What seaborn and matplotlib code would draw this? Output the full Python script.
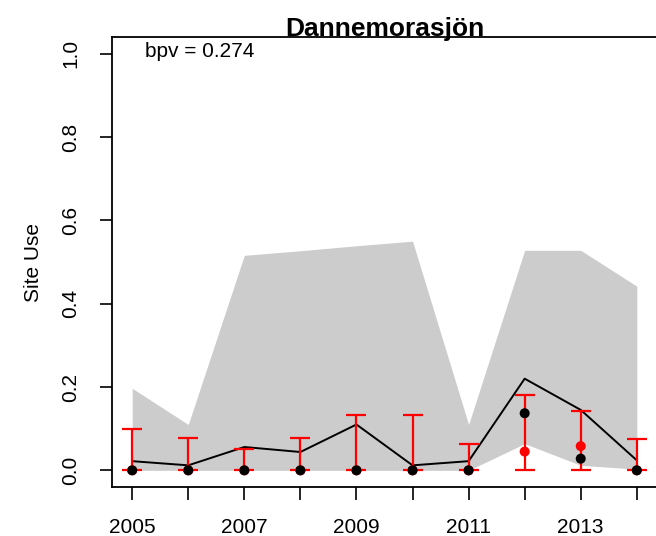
import matplotlib
matplotlib.use("Agg")
import matplotlib.pyplot as plt
import seaborn as sns
import pandas as pd
import numpy as np

years = [2005, 2006, 2007, 2008, 2009, 2010, 2011, 2012, 2013, 2014]
band_upper = [0.197, 0.110, 0.516, 0.527, 0.539, 0.550, 0.110, 0.528, 0.528, 0.442]
band_lower = [0.0, 0.0, 0.0, 0.0, 0.0, 0.0, 0.0, 0.064, 0.012, 0.003]
line_vals = [0.022, 0.012, 0.056, 0.044, 0.110, 0.012, 0.022, 0.220, 0.145, 0.024]
red_pts = [0.0, 0.0, 0.0, 0.0, 0.0, 0.0, 0.0, 0.045, 0.058, 0.0]
red_low = [0.0, 0.0, 0.0, 0.0, 0.0, 0.0, 0.0, 0.0, 0.0, 0.0]
red_high = [0.100, 0.077, 0.052, 0.077, 0.133, 0.133, 0.063, 0.182, 0.143, 0.075]
black_pts = [0.0, 0.0, 0.0, 0.0, 0.0, 0.0, 0.0, 0.137, 0.028, 0.0]
x_tick_labels = ["2005", "", "2007", "", "2009", "", "2011", "", "2013", ""]
y_ticks = [0.0, 0.2, 0.4, 0.6, 0.8, 1.0]
title = "Dannemorasjön"
bpv_text = "bpv = 0.274"

df = pd.DataFrame({"year": years, "line": line_vals, "red": red_pts, "black": black_pts})

sns.set_theme(style="white")
plt.rcParams["font.family"] = ["Liberation Sans", "DejaVu Sans"]

W, H = 656, 536
fig = plt.figure(figsize=(W / 100, H / 100), dpi=100)
left, right, top, bottom = 112, 657, 37, 487
ax = fig.add_axes([left / W, (H - bottom) / H, (right - left) / W, (bottom - top) / H])

ax.fill_between(years, band_lower, band_upper, color="#CCCCCC", linewidth=0, zorder=1)
sns.lineplot(data=df, x="year", y="line", color="black", linewidth=1.4, ax=ax, zorder=3)
yerr = [np.array(red_pts) - np.array(red_low), np.array(red_high) - np.array(red_pts)]
ax.errorbar(years, red_pts, yerr=yerr, fmt="none", ecolor="red", elinewidth=1.6,
            capsize=7.5, capthick=1.6, zorder=4)
sns.scatterplot(data=df, x="year", y="red", color="red", s=52, edgecolor="none", ax=ax, zorder=5)
sns.scatterplot(data=df, x="year", y="black", color="black", s=52, edgecolor="none", ax=ax, zorder=6)

ax.set_xlim(2005 - 0.36, 2014 + 0.36)
ax.set_ylim(-0.04, 1.04)
ax.set_xticks(years)
ax.set_xticklabels(x_tick_labels)
ax.set_yticks(y_ticks)
ax.set_yticklabels([f"{v:.1f}" for v in y_ticks], rotation=90, va="center")
ax.tick_params(axis="both", direction="out", length=9, width=1.2, color="black",
               labelsize=15, labelcolor="black", left=True, bottom=True)
ax.tick_params(axis="x", pad=13)
ax.tick_params(axis="y", pad=14)
for s in ax.spines.values():
    s.set_color("black")
    s.set_linewidth(1.3)
    s.set_visible(True)
ax.set_xlabel("")
ax.set_ylabel("Site Use", fontsize=15, color="black", labelpad=13)
ax.set_title(title, fontsize=19, fontweight="bold", color="black", pad=1)
ax.text(2005 + 0.22, 1.005, bpv_text, fontsize=15, color="black", ha="left", va="center")
ax.grid(False)

fig.savefig("out.png", dpi=100)
